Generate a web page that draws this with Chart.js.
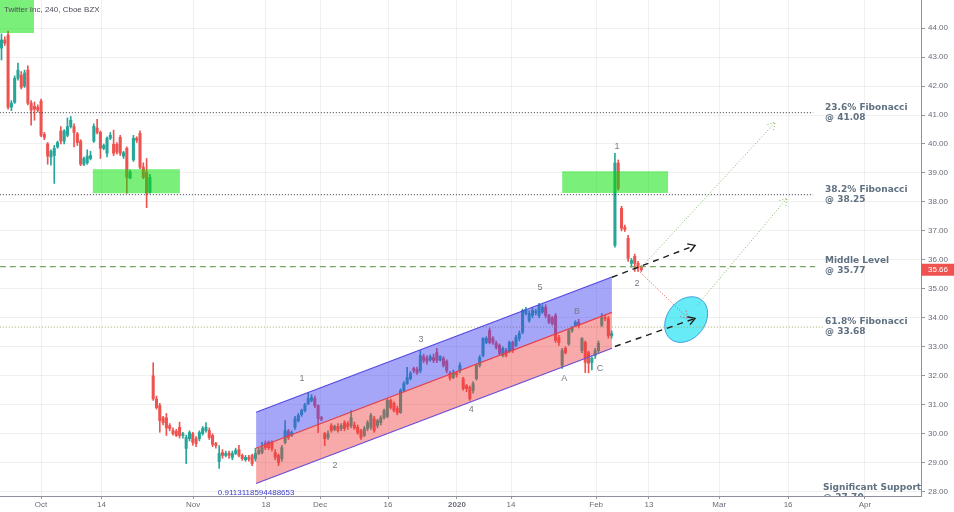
<!DOCTYPE html>
<html>
<head>
<meta charset="utf-8">
<script src="https://cdn.jsdelivr.net/npm/chart.js@4.4.0/dist/chart.umd.min.js"></script>
<style>
  html, body { margin: 0; padding: 0; background: #fff; }
  #wrap { width: 954px; height: 512px; }
</style>
</head>
<body>
<div id="wrap"><canvas id="chart" width="954" height="512"></canvas></div>
<script>
// TWTR 4h candles, index = bar number from the left edge of the picture
const opens = [
  43.31, 43.59, 43.76, 41.27, 41.44, 42.27, 42.38, 42.00, 42.55, 41.41,
  41.30, 41.27, 41.48, 40.33, 40.00, 39.55, 39.60, 39.90, 40.45, 40.10,
  40.30, 40.60, 40.60, 40.35, 40.10, 39.30, 39.35, 39.50, 40.10, 40.55,
  40.40, 39.85, 39.68, 40.20, 39.99, 39.99, 40.23, 39.58, 39.85, 38.82,
  39.45, 40.20, 40.37, 39.20, 39.03, 38.33,
  32.00, 31.20, 30.97, 30.55, 30.55, 30.28, 30.11, 30.08, 30.22, 29.94,
  29.49, 29.83, 30.00, 29.83, 29.83, 30.00, 30.11, 30.11, 29.94, 29.66,
  29.04, 29.35, 29.25, 29.33, 29.18, 29.32, 29.45, 29.25, 29.10, 29.18,
  29.25, 29.14, 29.32, 29.35, 29.66, 29.70, 29.70, 29.35, 29.25, 29.14,
  29.70, 30.08, 29.94, 30.22, 30.45, 30.66, 30.80, 31.04, 31.15, 31.21,
  30.97, 30.55, 30.00, 29.87, 30.28, 30.15, 30.25, 30.18, 30.38, 30.35,
  30.28, 30.30, 30.22, 30.11, 29.94, 30.18, 30.22, 30.52, 30.28, 30.38,
  30.55,
  30.60, 31.15, 31.05, 30.87, 30.73, 31.49, 31.73, 31.90, 32.25, 32.22,
  32.18, 32.66, 32.60, 32.55, 32.63, 32.80, 32.55, 32.60, 32.50, 32.08,
  31.94, 32.10, 32.18, 31.90, 31.66, 31.60, 31.49, 31.90, 32.36, 32.70,
  33.15, 33.56, 33.29, 33.12, 33.05, 32.70, 32.87, 32.84, 33.15, 33.05,
  33.29, 33.50, 34.15, 33.91, 34.08, 34.18, 34.08, 34.20, 34.36, 34.08,
  34.00, 34.08, 33.32, 32.36, 32.95, 33.10, 33.56, 33.74, 33.85, 32.87,
  33.15, 32.80, 32.46, 32.70, 32.87, 33.74, 34.01, 33.97, 33.39,
  36.50, 39.34, 37.78, 37.12, 36.74, 35.88, 36.12, 35.88, 35.75
];
const highs = [
  43.80, 43.70, 43.90, 41.50, 42.35, 42.79, 42.50, 42.55, 42.70, 41.50,
  41.45, 41.35, 41.55, 40.40, 40.05, 39.80, 39.95, 40.10, 40.60, 40.50,
  40.90, 40.95, 40.70, 40.40, 40.15, 39.55, 39.80, 39.75, 40.70, 40.85,
  40.45, 40.00, 40.25, 40.40, 40.48, 40.05, 40.30, 39.75, 39.90, 39.10,
  40.30, 40.25, 40.45, 39.35, 39.50, 38.95,
  32.45, 31.30, 31.05, 30.60, 30.70, 30.35, 30.20, 30.15, 30.40, 30.05,
  29.95, 30.10, 30.05, 29.90, 30.10, 30.25, 30.38, 30.20, 30.00, 29.70,
  29.59, 29.45, 29.40, 29.40, 29.40, 29.50, 29.60, 29.30, 29.25, 29.25,
  29.30, 29.50, 29.50, 29.70, 29.75, 29.75, 29.75, 29.45, 29.30, 29.60,
  30.45, 30.15, 30.10, 30.60, 30.70, 30.85, 31.05, 31.42, 31.35, 31.30,
  31.00, 30.60, 30.05, 30.10, 30.35, 30.30, 30.35, 30.35, 30.45, 30.42,
  30.80, 30.40, 30.30, 30.15, 30.25, 30.45, 30.70, 30.60, 30.50, 30.62,
  30.85,
  31.20, 31.20, 31.10, 30.95, 31.55, 31.80, 32.29, 32.15, 32.30, 32.30,
  32.87, 32.75, 32.70, 32.72, 32.75, 32.95, 32.70, 32.66, 32.55, 32.15,
  32.20, 32.15, 32.45, 31.95, 31.70, 31.65, 31.80, 32.40, 32.70, 33.32,
  33.35, 33.65, 33.35, 33.20, 33.10, 33.00, 32.95, 33.20, 33.20, 33.40,
  33.55, 34.30, 34.36, 34.25, 34.35, 34.30, 34.50, 34.45, 34.45, 34.12,
  34.05, 34.15, 33.40, 32.95, 33.00, 33.60, 33.70, 33.90, 33.95, 33.32,
  33.20, 32.85, 32.65, 32.95, 33.20, 34.15, 34.10, 34.05, 33.55,
  39.68, 39.45, 37.85, 37.20, 36.85, 36.05, 36.20, 35.95, 35.80
];
const lows = [
  42.90, 43.40, 41.20, 41.15, 41.40, 42.20, 41.90, 41.95, 41.35, 40.65,
  40.82, 41.10, 40.25, 40.15, 39.30, 39.27, 38.64, 39.85, 40.00, 40.00,
  40.25, 40.55, 39.90, 39.95, 39.25, 39.25, 39.30, 39.45, 40.05, 40.35,
  39.50, 39.80, 39.55, 40.15, 39.60, 39.65, 39.60, 39.50, 38.30, 38.80,
  39.40, 40.05, 39.15, 38.80, 37.80, 38.30,
  31.15, 30.85, 30.05, 30.30, 29.94, 30.10, 29.95, 29.90, 29.85, 29.85,
  28.97, 29.75, 29.60, 29.55, 29.75, 29.95, 30.05, 29.80, 29.55, 29.50,
  28.80, 29.15, 29.20, 29.15, 29.10, 29.28, 29.20, 29.08, 29.05, 29.05,
  28.90, 29.05, 29.28, 29.30, 29.45, 29.45, 29.40, 29.10, 28.90, 29.05,
  29.65, 29.80, 29.90, 30.15, 30.40, 30.60, 30.75, 31.00, 31.10, 30.90,
  30.04, 30.45, 29.59, 29.80, 30.05, 30.10, 30.05, 30.10, 30.10, 30.15,
  30.20, 30.15, 29.98, 29.80, 29.90, 30.10, 30.15, 30.05, 30.20, 30.30,
  30.50,
  30.55, 30.85, 30.75, 30.65, 30.70, 31.45, 31.70, 31.85, 32.10, 32.05,
  32.10, 32.45, 32.40, 32.50, 32.45, 32.45, 32.50, 32.30, 32.10, 31.85,
  31.90, 31.95, 32.10, 31.50, 31.45, 31.15, 31.40, 31.85, 32.30, 32.65,
  33.10, 33.10, 33.08, 32.92, 32.70, 32.65, 32.65, 32.80, 32.80, 33.00,
  33.20, 33.45, 34.10, 33.85, 34.00, 34.10, 34.00, 34.15, 34.00, 33.80,
  33.75, 33.15, 33.05, 32.25, 32.75, 33.05, 33.50, 33.70, 33.65, 32.80,
  32.11, 32.10, 32.20, 32.60, 32.80, 33.70, 33.90, 33.30, 33.30,
  36.44, 38.40, 37.00, 36.98, 35.95, 35.75, 35.60, 35.60, 35.60
];
const closes = [
  43.59, 43.48, 41.27, 41.41, 42.27, 42.55, 41.96, 42.45, 41.41, 41.17,
  41.20, 41.17, 40.30, 40.23, 39.58, 39.75, 39.85, 40.05, 40.10, 40.45,
  40.60, 40.82, 40.40, 40.05, 39.30, 39.50, 39.58, 39.60, 40.61, 40.40,
  39.85, 39.95, 40.20, 40.30, 39.68, 39.72, 39.68, 39.70, 38.85, 39.03,
  40.20, 40.13, 39.20, 38.85, 38.30, 38.85,
  31.20, 30.90, 30.45, 30.38, 30.20, 30.18, 30.00, 29.94, 29.94, 30.00,
  29.87, 30.04, 29.70, 29.66, 30.04, 30.18, 30.22, 29.87, 29.63, 29.59,
  29.32, 29.25, 29.32, 29.25, 29.32, 29.42, 29.25, 29.14, 29.18, 29.12,
  28.97, 29.32, 29.42, 29.52, 29.52, 29.52, 29.49, 29.18, 29.00, 29.52,
  30.11, 29.87, 30.04, 30.52, 30.63, 30.80, 31.00, 31.21, 31.25, 30.97,
  30.52, 30.50, 29.83, 30.00, 30.11, 30.25, 30.11, 30.28, 30.18, 30.25,
  30.55, 30.20, 30.04, 29.87, 30.18, 30.38, 30.63, 30.11, 30.45, 30.55,
  30.80,
  31.15, 30.90, 30.80, 30.73, 31.49, 31.73, 31.94, 32.08, 32.18, 32.11,
  32.70, 32.53, 32.50, 32.66, 32.53, 32.53, 32.66, 32.36, 32.18, 31.92,
  32.10, 32.04, 32.36, 31.56, 31.56, 31.21, 31.73, 32.36, 32.63, 33.29,
  33.29, 33.15, 33.15, 32.98, 32.77, 32.94, 32.70, 33.15, 32.87, 33.32,
  33.46, 34.26, 34.29, 34.15, 34.26, 34.22, 34.43, 34.36, 34.08, 33.85,
  33.80, 33.22, 33.15, 32.87, 32.80, 33.56, 33.65, 33.85, 33.74, 33.29,
  32.46, 32.43, 32.60, 32.87, 33.12, 34.01, 33.97, 33.39, 33.46,
  39.34, 38.47, 37.09, 37.05, 36.05, 35.98, 35.88, 35.74, 35.66
];

// time axis (bar positions of the date labels)
const tickBars = [12, 30.3, 58.1, 80.2, 96.6, 117.2, 138.1, 154.5, 180.3, 196.3, 217.6, 238.5, 261.8];
const tickLabels = ['Oct', '14', 'Nov', '18', 'Dec', '16', '2020', '14', 'Feb', '13', 'Mar', '16', 'Apr'];
const priceTicks = [28, 29, 30, 31, 32, 33, 34, 35, 36, 37, 38, 39, 40, 41, 42, 43, 44];

// horizontal levels
const levelPrices = [41.08, 38.25, 35.77, 33.68];
const levelEnds = [246.1, 246.1, 246.7, 249.1];
const levelNames = ['23.6% Fibonacci', '38.2% Fibonacci', 'Middle Level', '61.8% Fibonacci'];
const supportPrice = 27.70;
const lastPrice = 35.66;

// regression channel
const channelBars = [77.2, 185.1];
const channelTop = [30.74, 35.41];
const channelMid = [29.50, 34.19];
const channelLow = [28.28, 32.95];
const channelValue = '0.9113118594488653';

// supply zones [bar from, bar to, price low, price high]
const zoneBoxes = [[-0.5, 9.85, 43.83, 45.2], [27.7, 54.1, 38.30, 39.13], [170.0, 202.1, 38.31, 39.06]];

// projections [bar, price] from -> to
const projFrom = [[185.1, 35.40], [186.0, 33.01], [192.4, 35.71], [194.0, 35.74], [210.9, 34.43]];
const projTo = [[210.3, 36.50], [210.3, 33.98], [208.2, 33.98], [234.6, 40.75], [238.2, 38.13]];
const targetZone = [207.6, 33.94];

// Elliott wave marks
const waveNames = ['1', '2', '3', '4', '5', 'A', 'B', 'C', '1', '2'];
const waveBars = [91.1, 101.1, 127.2, 142.4, 163.3, 170.6, 174.5, 181.5, 186.6, 192.7];
const wavePrices = [31.91, 28.90, 33.25, 30.83, 35.05, 31.91, 34.22, 32.25, 39.92, 35.19];

const UP = '#26a69a';
const DOWN = '#ef5350';
const TEXT = '#5f7080';

Chart.defaults.font.family = '"Liberation Sans", Arial, sans-serif';
Chart.defaults.font.size = 8;
Chart.defaults.color = '#6a6d78';

const candleColors = opens.map((o, i) => closes[i] >= o ? UP : DOWN);
const seg = (xs, ys) => xs.map((v, i) => ({ x: v, y: ys[i] }));

const projStyles = [
  { color: '#1e1e1e', dash: [6, 5], width: 1.4 },
  { color: '#1e1e1e', dash: [6, 5], width: 1.4 },
  { color: '#e04848', dash: [1, 2], width: 1 },
  { color: '#7cb85a', dash: [1, 2], width: 1 },
  { color: '#7cb85a', dash: [1, 2], width: 1 }
];

const lineBase = { type: 'line', pointRadius: 0, fill: false, tension: 0 };

const datasets = [
  {
    type: 'bar', label: 'wick',
    data: lows.map((l, i) => ({ x: i, y: [l, highs[i]] })),
    backgroundColor: candleColors, barThickness: 1, grouped: false, order: 6
  },
  {
    type: 'bar', label: 'body',
    data: opens.map((o, i) => ({ x: i, y: [o, closes[i]] })),
    backgroundColor: candleColors, barThickness: 2.4, minBarLength: 1, grouped: false, order: 5
  },
  // channel fills (indexes 2..4)
  { ...lineBase, data: seg(channelBars, channelTop), borderWidth: 0, fill: '+1', backgroundColor: 'rgba(70, 70, 240, 0.48)', order: 3 },
  { ...lineBase, data: seg(channelBars, channelMid), borderWidth: 0, fill: '+1', backgroundColor: 'rgba(240, 60, 60, 0.44)', order: 3 },
  { ...lineBase, data: seg(channelBars, channelLow), borderWidth: 0, order: 3 },
  // channel edges
  { ...lineBase, data: seg(channelBars, channelTop), borderColor: '#5548e2', borderWidth: 1.2, order: 2 },
  { ...lineBase, data: seg(channelBars, channelMid), borderColor: '#e3404e', borderWidth: 1.2, order: 2 },
  { ...lineBase, data: seg(channelBars, channelLow), borderColor: '#6a4cd8', borderWidth: 1.2, order: 2 }
];

const levelStyles = [
  { color: '#2a2e39', dash: [1, 2], width: 1 },
  { color: '#2a2e39', dash: [1, 2], width: 1 },
  { color: '#7aa560', dash: [6, 4], width: 1.2 },
  { color: '#a8a860', dash: [1, 2], width: 1 }
];
levelPrices.forEach((p, i) => {
  datasets.push({
    ...lineBase, data: [{ x: -0.5, y: p }, { x: levelEnds[i], y: p }],
    borderColor: levelStyles[i].color, borderDash: levelStyles[i].dash, borderWidth: levelStyles[i].width, order: 4
  });
});

projFrom.forEach((a, i) => {
  const b = projTo[i];
  datasets.push({
    ...lineBase, data: [{ x: a[0], y: a[1] }, { x: b[0], y: b[1] }],
    borderColor: projStyles[i].color, borderDash: projStyles[i].dash, borderWidth: projStyles[i].width, order: 1
  });
});

function clipArea(ctx, a) {
  ctx.beginPath();
  ctx.rect(a.left, a.top, a.right - a.left, a.bottom - a.top);
  ctx.clip();
}

const drawings = {
  id: 'drawings',
  beforeDatasetsDraw(chart) {
    const { ctx, chartArea, scales: { x, y } } = chart;
    ctx.save();
    clipArea(ctx, chartArea);
    ctx.beginPath();
    ctx.ellipse(x.getPixelForValue(targetZone[0]), y.getPixelForValue(targetZone[1]), 25, 19, -0.9, 0, Math.PI * 2);
    ctx.fillStyle = 'rgba(0, 222, 242, 0.6)';
    ctx.fill();
    ctx.strokeStyle = 'rgba(40, 140, 220, 0.8)';
    ctx.lineWidth = 1;
    ctx.stroke();
    ctx.restore();
  },
  afterDatasetsDraw(chart) {
    const { ctx, chartArea, scales: { x, y } } = chart;
    ctx.save();
    clipArea(ctx, chartArea);

    // green zones
    ctx.fillStyle = 'rgba(0, 225, 0, 0.52)';
    zoneBoxes.forEach(b => {
      const x0 = x.getPixelForValue(b[0]), x1 = x.getPixelForValue(b[1]);
      const y0 = y.getPixelForValue(b[3]), y1 = y.getPixelForValue(b[2]);
      ctx.fillRect(x0, y0, x1 - x0, y1 - y0);
    });

    // arrow heads
    projFrom.forEach((a, i) => {
      const b = projTo[i];
      const x0 = x.getPixelForValue(a[0]), y0 = y.getPixelForValue(a[1]);
      const x1 = x.getPixelForValue(b[0]), y1 = y.getPixelForValue(b[1]);
      const ang = Math.atan2(y1 - y0, x1 - x0);
      const s = 8;
      ctx.beginPath();
      ctx.moveTo(x1 - s * Math.cos(ang - 0.55), y1 - s * Math.sin(ang - 0.55));
      ctx.lineTo(x1, y1);
      ctx.lineTo(x1 - s * Math.cos(ang + 0.55), y1 - s * Math.sin(ang + 0.55));
      ctx.strokeStyle = projStyles[i].color;
      ctx.lineWidth = projStyles[i].width;
      ctx.setLineDash(projStyles[i].dash[0] > 2 ? [] : projStyles[i].dash);
      ctx.stroke();
    });
    ctx.setLineDash([]);

    // wave counts
    ctx.font = '9px "Liberation Sans", Arial, sans-serif';
    ctx.fillStyle = '#787b86';
    ctx.textAlign = 'center';
    ctx.textBaseline = 'middle';
    waveNames.forEach((t, i) => {
      ctx.fillText(t, x.getPixelForValue(waveBars[i]), y.getPixelForValue(wavePrices[i]));
    });

    // channel value
    ctx.font = '8px "Liberation Sans", Arial, sans-serif';
    ctx.fillStyle = '#3d3dc8';
    ctx.fillText(channelValue, x.getPixelForValue(channelBars[0]), y.getPixelForValue(27.97));

    // level captions
    ctx.font = 'bold 9px "DejaVu Sans", Verdana, sans-serif';
    ctx.fillStyle = TEXT;
    ctx.textAlign = 'left';
    const lx = x.getPixelForValue(249.7);
    levelPrices.forEach((p, i) => {
      const py = y.getPixelForValue(p);
      ctx.fillText(levelNames[i], lx, py - 5.5);
      ctx.fillText('@ ' + p.toFixed(2), lx, py + 4.5);
    });
    const sy = y.getPixelForValue(supportPrice);
    ctx.fillText('Significant Support', x.getPixelForValue(249.1), sy - 12.5);
    ctx.fillText('@ ' + supportPrice.toFixed(2), x.getPixelForValue(249.1), sy - 2.5);
    ctx.restore();

    // title
    ctx.save();
    ctx.font = '8px "Liberation Sans", Arial, sans-serif';
    ctx.fillStyle = '#4a4d57';
    ctx.textAlign = 'left';
    ctx.textBaseline = 'middle';
    ctx.fillText('Twitter Inc, 240, Cboe BZX', 4, 10);
    ctx.restore();
  },
  afterDraw(chart) {
    const { ctx, chartArea, scales: { y } } = chart;
    const py = y.getPixelForValue(lastPrice);
    ctx.save();
    ctx.fillStyle = DOWN;
    ctx.fillRect(chartArea.right, py - 6, 33, 12);
    ctx.fillStyle = '#fff';
    ctx.font = '8px "Liberation Sans", Arial, sans-serif';
    ctx.textAlign = 'left';
    ctx.textBaseline = 'middle';
    ctx.fillText(lastPrice.toFixed(2), chartArea.right + 7, py);
    ctx.restore();
  }
};

new Chart(document.getElementById('chart'), {
  type: 'bar',
  data: { datasets },
  options: {
    responsive: false,
    animation: false,
    devicePixelRatio: 1,
    layout: { padding: 0 },
    plugins: { legend: { display: false }, tooltip: { enabled: false } },
    scales: {
      x: {
        type: 'linear', min: -0.45, max: 278.8, offset: false,
        afterFit(s) { s.height = 16; s.paddingLeft = 0; s.paddingRight = 0; },
        afterBuildTicks(s) { s.ticks = tickBars.map(v => ({ value: v })); },
        grid: { color: 'rgba(42, 46, 57, 0.07)', tickColor: '#9598a1', tickLength: 3, offset: false },
        border: { color: '#8e9199' },
        ticks: {
          autoSkip: false, maxRotation: 0, padding: 1, color: '#6a6d78',
          font: c => ({ size: 8, weight: tickLabels[c.index] === '2020' ? 'bold' : 'normal' }),
          callback: (v, i) => tickLabels[i]
        }
      },
      y: {
        position: 'right', min: 27.85, max: 44.97, beginAtZero: false,
        afterFit(s) { s.width = 33; s.paddingTop = 0; s.paddingBottom = 0; },
        afterBuildTicks(s) { s.ticks = priceTicks.map(v => ({ value: v })); },
        grid: { color: 'rgba(42, 46, 57, 0.07)', tickColor: '#9598a1', tickLength: 4 },
        border: { color: '#8e9199' },
        ticks: { padding: 3, color: '#6a6d78', callback: v => v.toFixed(2) }
      }
    }
  },
  plugins: [drawings]
});
</script>
</body>
</html>
